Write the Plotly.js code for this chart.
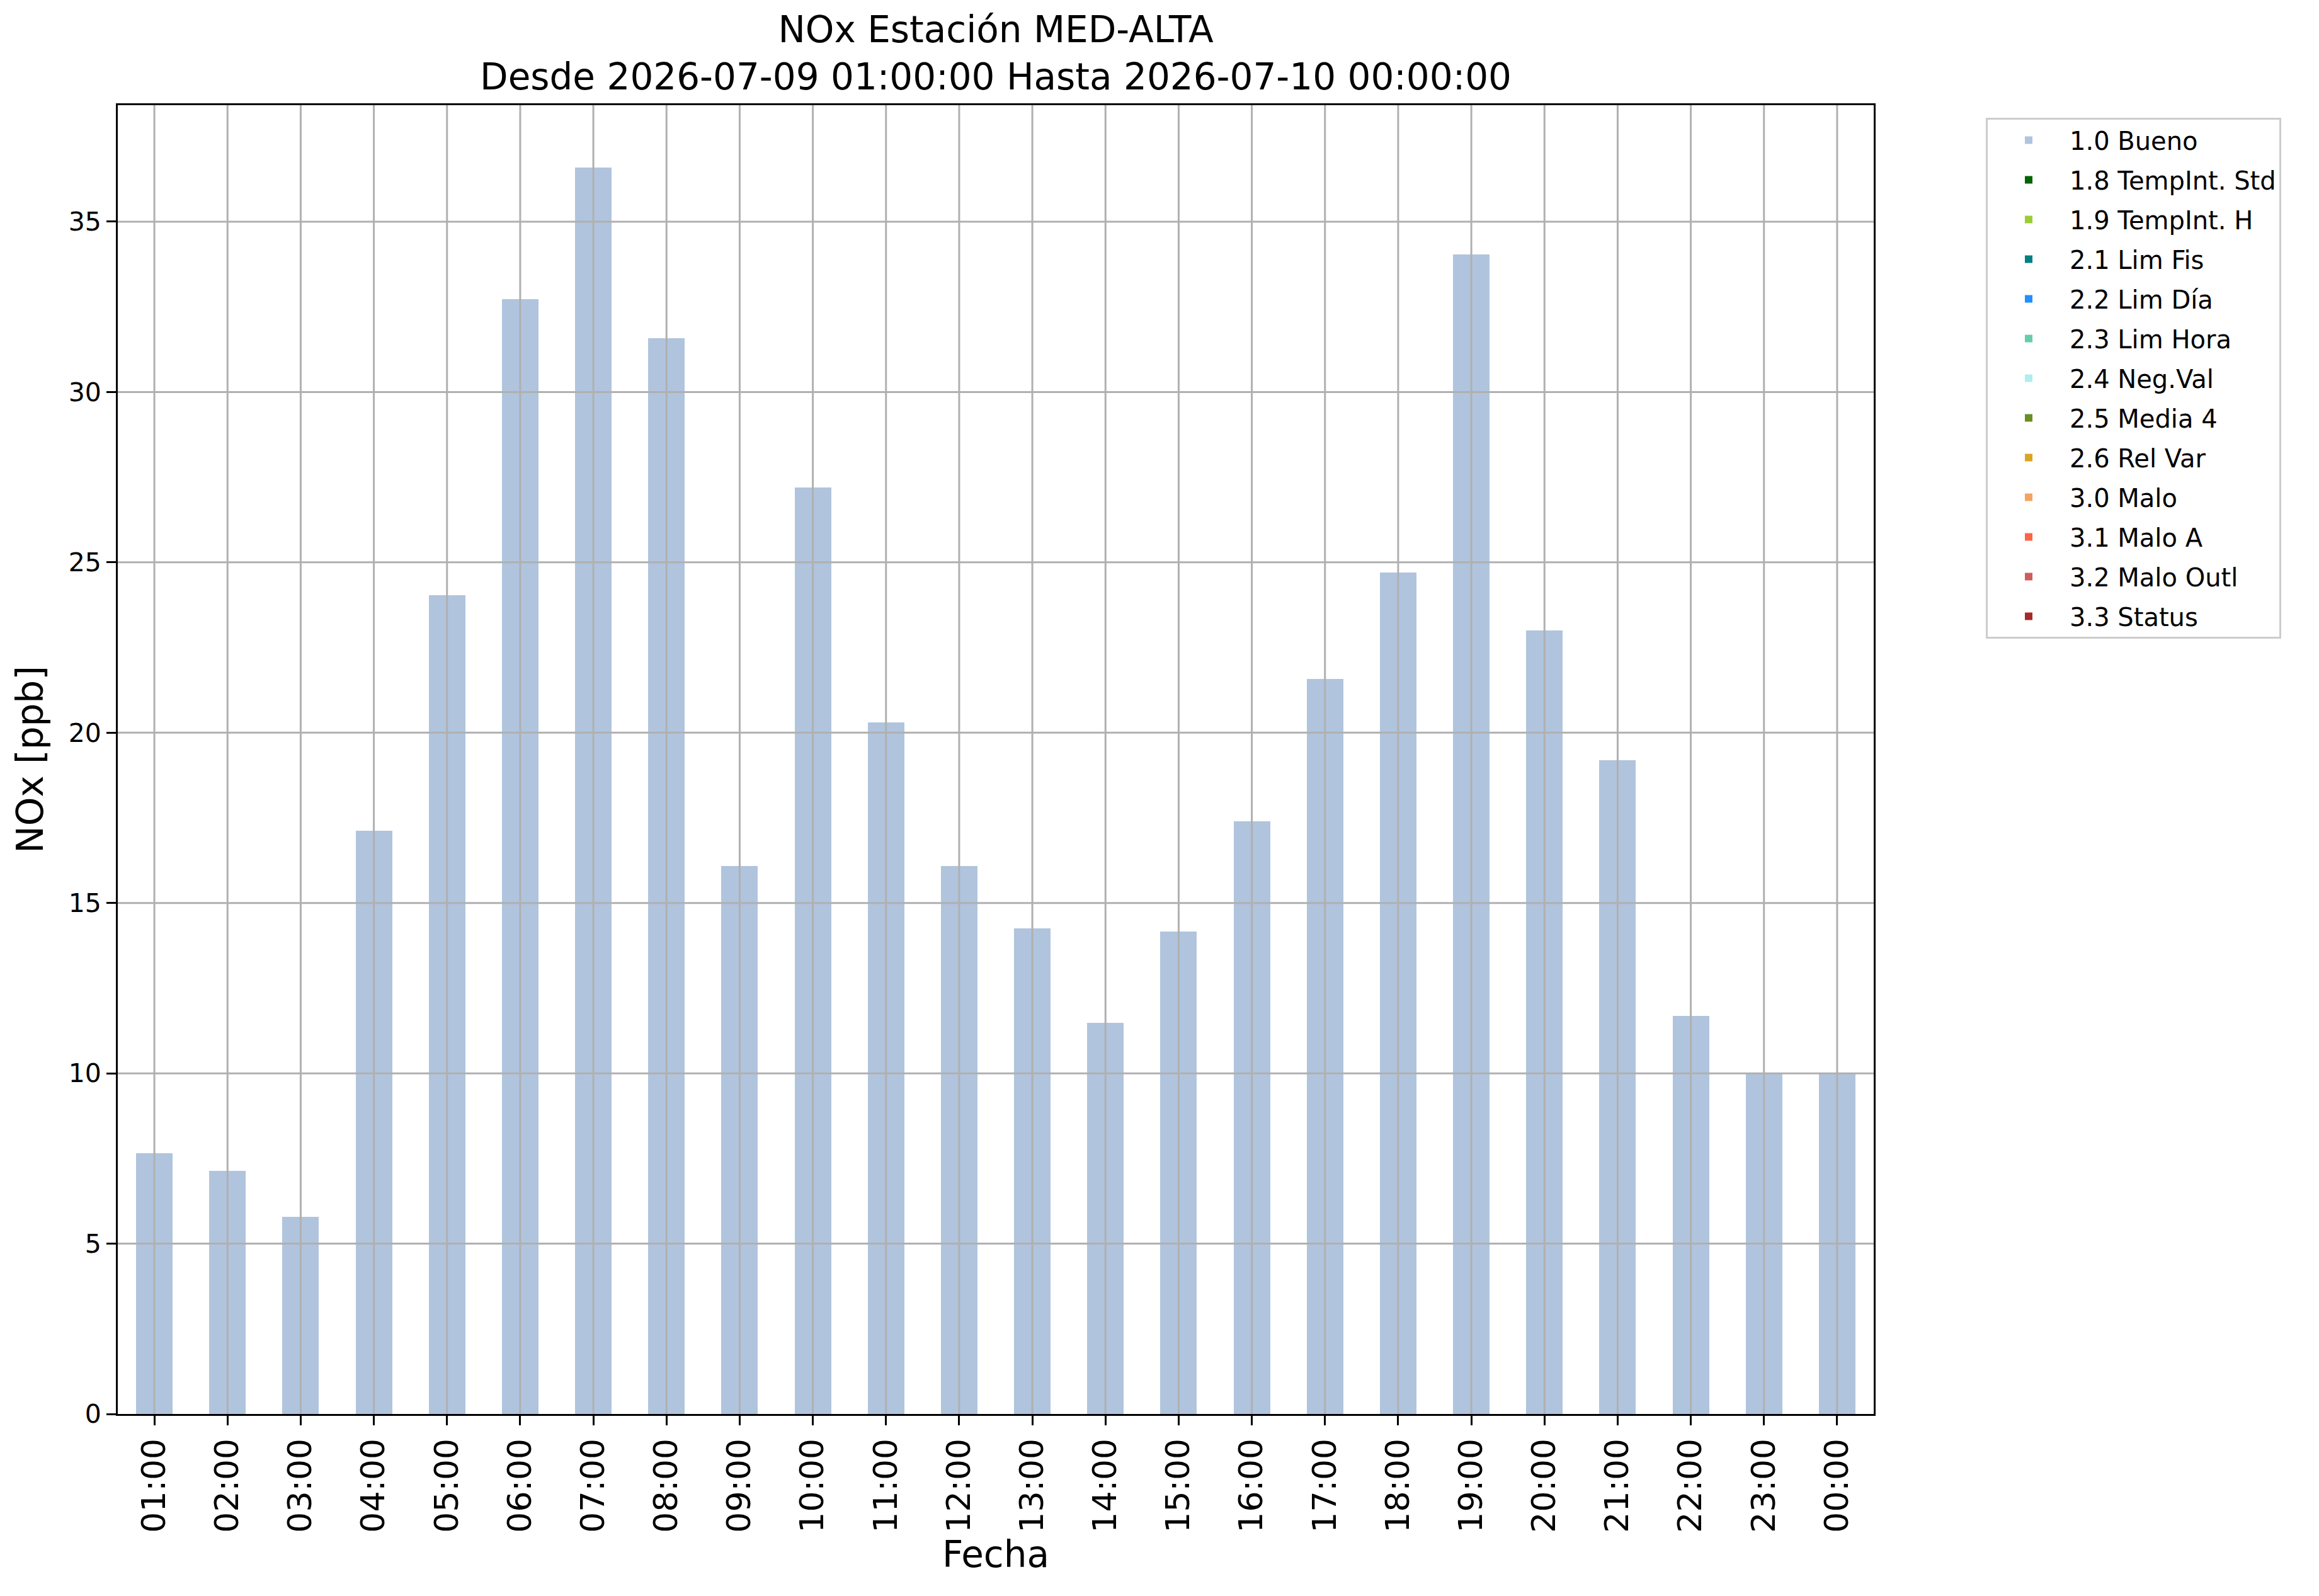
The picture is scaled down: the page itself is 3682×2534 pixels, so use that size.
<!DOCTYPE html>
<html>
<head>
<meta charset="utf-8">
<script src="https://cdn.plot.ly/plotly-3.0.1.min.js"></script>
<style>
  html, body { margin: 0; padding: 0; background: #fff; }
  #chart { width: 3682px; height: 2534px; }
</style>
</head>
<body>
<div id="chart"></div>
<script>
let hours = ['01:00', '02:00', '03:00', '04:00', '05:00', '06:00', '07:00', '08:00',
  '09:00', '10:00', '11:00', '12:00', '13:00', '14:00', '15:00', '16:00',
  '17:00', '18:00', '19:00', '20:00', '21:00', '22:00', '23:00', '00:00'];

// NOx [ppb], all hours flagged 1.0 Bueno
let bueno = [7.65, 7.13, 5.78, 17.13, 24.04, 32.73, 36.59, 31.57,
  16.09, 27.2, 20.3, 16.09, 14.26, 11.48, 14.17, 17.39,
  21.57, 24.7, 34.04, 23.0, 19.2, 11.68, 9.99, 9.99];

let flagNames = ['1.0 Bueno', '1.8 TempInt. Std', '1.9 TempInt. H', '2.1 Lim Fis',
  '2.2 Lim Día', '2.3 Lim Hora', '2.4 Neg.Val', '2.5 Media 4', '2.6 Rel Var',
  '3.0 Malo', '3.1 Malo A', '3.2 Malo Outl', '3.3 Status'];

let flagColors = ['#b0c4de', '#006400', '#9acd32', '#008080', '#1e90ff', '#66cdaa',
  '#afeeee', '#6b8e23', '#daa520', '#f4a460', '#ff6347', '#cd5c5c', '#a52a2a'];

let yTicks = [0, 5, 10, 15, 20, 25, 30, 35];

let font = 'DejaVu Sans, Liberation Sans, sans-serif';
let gridColor = '#b0b0b0';

function flagValues(i) {
  if(i === 0) {
    return bueno;
  }
  return hours.map(function() { return null; });
}

let traces = [];
for(let i = 0; i < flagNames.length; i++) {
  traces.push({
    type: 'bar',
    x: hours,
    y: flagValues(i),
    name: flagNames[i],
    legendgroup: 'g' + i,
    width: 0.5,
    marker: { color: flagColors[i], line: { width: 0 } },
    hoverinfo: 'skip'
  });
}

// matplotlib draws the grid over the bars, so grid lines are shapes above
let shapes = [];
hours.forEach(function(h) {
  shapes.push({
    type: 'line', layer: 'above', xref: 'x', yref: 'paper',
    x0: h, x1: h, y0: 0, y1: 1,
    line: { color: gridColor, width: 3 }
  });
});
yTicks.slice(1).forEach(function(v) {
  shapes.push({
    type: 'line', layer: 'above', xref: 'paper', yref: 'y',
    x0: 0, x1: 1, y0: v, y1: v,
    line: { color: gridColor, width: 3 }
  });
});

let layout = {
  width: 3682,
  height: 2534,
  paper_bgcolor: '#fff',
  plot_bgcolor: '#fff',
  font: { family: font, color: '#000' },
  margin: { l: 187, r: 707, t: 167, b: 289, autoexpand: false },
  barmode: 'stack',
  showlegend: true,
  title: {
    text: 'NOx Estación MED-ALTA<br>Desde 2026-07-09 01:00:00 Hasta 2026-07-10 00:00:00',
    font: { family: font, size: 58, color: '#000' },
    xref: 'paper', x: 0.5, xanchor: 'center',
    yref: 'container', y: 0.9737, yanchor: 'top'
  },
  xaxis: {
    type: 'category',
    range: [-0.5, 23.5],
    tickangle: -90,
    tickfont: { family: font, size: 52, color: '#000' },
    ticks: 'outside', ticklen: 15, tickwidth: 3, tickcolor: '#000',
    showgrid: false,
    showline: true, linecolor: '#000', linewidth: 3, mirror: true,
    zeroline: false,
    automargin: false,
    title: { text: 'Fecha', font: { family: font, size: 58, color: '#000' }, standoff: 4 }
  },
  yaxis: {
    range: [0, 38.42],
    tickvals: yTicks,
    tickfont: { family: font, size: 41, color: '#000' },
    ticks: 'outside', ticklen: 15, tickwidth: 3, tickcolor: '#000',
    showgrid: false,
    showline: true, linecolor: '#000', linewidth: 3, mirror: true,
    zeroline: false,
    automargin: false,
    title: { text: 'NOx [ppb]', font: { family: font, size: 58, color: '#000' }, standoff: 22 }
  },
  legend: {
    xref: 'container', yref: 'container',
    x: 3153 / 3682, y: 1 - 187 / 2534,
    xanchor: 'left', yanchor: 'top',
    font: { family: font, size: 40, color: '#000' },
    bgcolor: '#fff',
    bordercolor: '#cccccc',
    borderwidth: 3,
    itemwidth: 120,
    tracegroupgap: 8,
    traceorder: 'grouped'
  },
  shapes: shapes
};

let opts = {
  displayModeBar: false,
  staticPlot: true
};

Plotly.newPlot('chart', traces, layout, opts);
</script>
</body>
</html>
